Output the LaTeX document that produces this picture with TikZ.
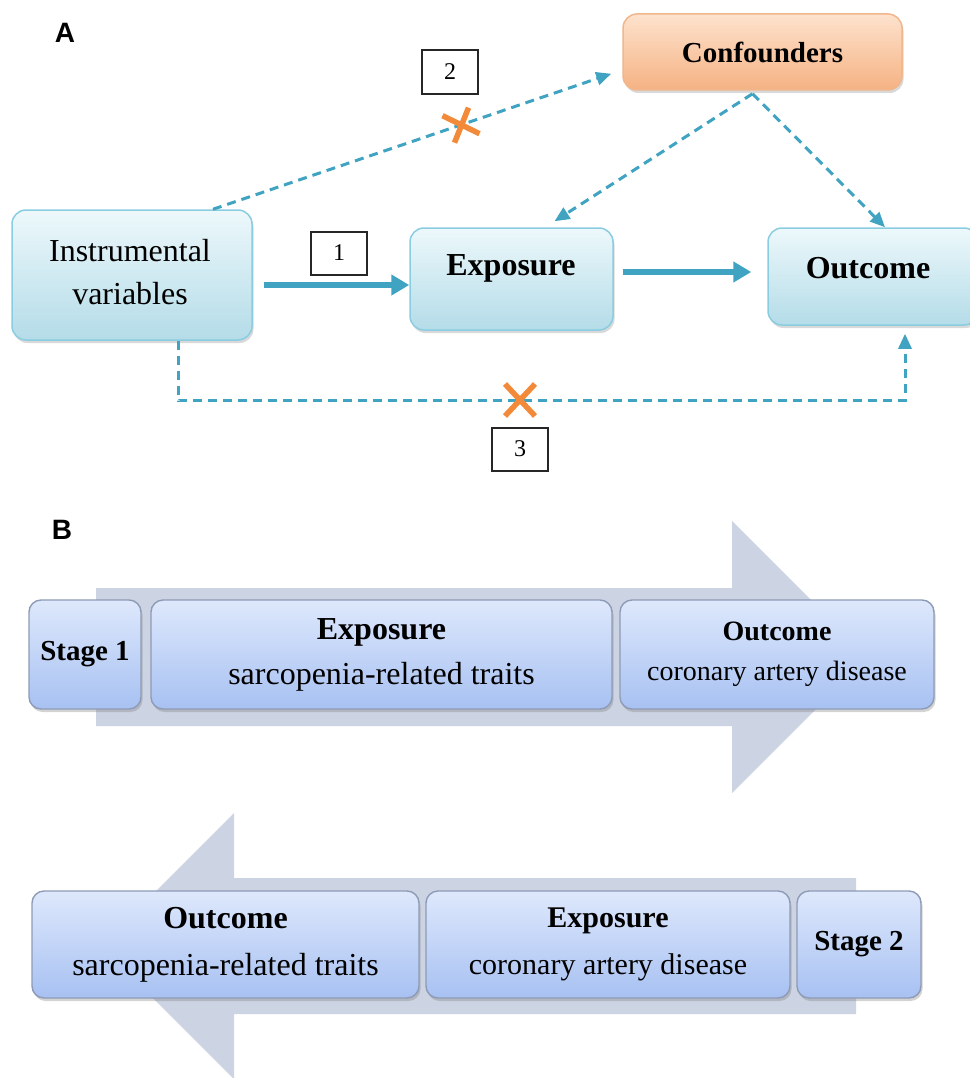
\documentclass[tikz,border=0pt]{standalone}
\usepackage{fontspec}
\setmainfont{Liberation Serif}
\newfontfamily\panelfont{Liberation Sans}
\usetikzlibrary{arrows.meta,shadows,calc}
\definecolor{arrowblue}{HTML}{3FA3C1}
\definecolor{crossorange}{HTML}{F28A3A}
\definecolor{aline}{HTML}{8ACDE0}
\definecolor{atop}{HTML}{EDF8FB}
\definecolor{abot}{HTML}{B4DCE8}
\definecolor{oline}{HTML}{F0B68C}
\definecolor{otop}{HTML}{FDE2CD}
\definecolor{obot}{HTML}{F5B283}
\definecolor{bline}{HTML}{8E9BB6}
\definecolor{btop}{HTML}{DEE8FC}
\definecolor{bbot}{HTML}{A7C1F2}
\definecolor{bigarrow}{HTML}{CCD3E3}

\begin{document}
\begin{tikzpicture}[x=1pt,y=-1pt,
  abox/.style={draw=aline, line width=1.5pt, rounded corners=14pt, top color=atop, bottom color=abot,
    drop shadow={shadow xshift=1.5pt, shadow yshift=-3pt, opacity=0.3}},
  obox/.style={abox, draw=oline, top color=otop, bottom color=obot},
  bbox/.style={draw=bline, line width=1.4pt, rounded corners=12pt, top color=btop, bottom color=bbot,
    drop shadow={shadow xshift=1.5pt, shadow yshift=-3pt, opacity=0.35}, align=center},
  numbox/.style={draw=black!85, line width=2pt, fill=white, minimum width=56pt, minimum height=43pt,
    font=\fontsize{24}{26}\selectfont},
  thickarrow/.style={draw=arrowblue, line width=6pt, -{Triangle[length=18pt,width=20pt]}},
  dasharrow/.style={draw=arrowblue, line width=3pt, dash pattern=on 9pt off 6pt, -{Triangle[length=15pt,width=13pt]}},
  crossmark/.style={draw=crossorange, line width=5.5pt},
  bigtxt/.style={font=\fontsize{32}{43}\selectfont, align=center},
]
\useasboundingbox (0,0) rectangle (969,1078);

%%% Panel A
% Text Node
\node[font=\panelfont\bfseries\fontsize{28}{30}\selectfont] (lblA) at (65,33) {A};

%Shape: Rounded Rect
\node[obox, minimum width=279pt, minimum height=76pt, font=\bfseries\fontsize{29}{34}\selectfont] (conf) at (762.5,52) {Confounders};
\node[abox, minimum width=240pt, minimum height=130pt] (iv) at (132,275) {};
\node[abox, minimum width=203pt, minimum height=102pt] (expo) at (511.5,279) {};
\node[abox, minimum width=210pt, minimum height=97pt] (outc) at (873,276.5) {};

% Text Node
\node[bigtxt] (ivtxt) at (130,272) {Instrumental\\variables};
\node[bigtxt, font=\bfseries\fontsize{32}{38}\selectfont] (expotxt) at (511,268) {Exposure};
\node[bigtxt, font=\bfseries\fontsize{32}{38}\selectfont] (outctxt) at (868,268) {Outcome};

% Solid arrows
\draw[thickarrow, shorten <=11pt] ([yshift=-10pt]iv.east) -- ([yshift=-10pt]iv.east -| expo.west);
\draw[thickarrow, shorten <=9pt, shorten >=16pt] ([yshift=7pt]expo.east) -- ([yshift=7pt]expo.east -| outc.west);

% Dashed arrows
\draw[dasharrow] ([xshift=81pt]iv.north) -- coordinate[pos=0.624] (x2) ($(conf.south west)+(-11,-17)$);
\coordinate (cfs) at ([xshift=-10pt,yshift=-3pt]conf.south);
\draw[dasharrow] (cfs) -- ([xshift=43pt,yshift=6pt]expo.north);
\draw[dasharrow] (cfs) -- ([xshift=12pt]outc.north);
\draw[dasharrow] ([xshift=46pt]iv.south) -- ++(0,60) coordinate (ivb) -| ([xshift=32pt,yshift=-8pt]outc.south);
\coordinate (x3) at (520,400);

% Crosses
\draw[crossmark] ($(x2)+(7,-17)$) -- ($(x2)+(-7,18)$);
\draw[crossmark] ($(x2)+(-19,-9)$) -- ($(x2)+(18,9)$);
\draw[crossmark] ($(x3)+(-15,-16)$) -- ($(x3)+(15,16)$);
\draw[crossmark] ($(x3)+(15,-16)$) -- ($(x3)+(-15,16)$);

% Number boxes
\node[numbox] (n1) at (339,253) {1};
\node[numbox, minimum height=44pt] (n2) at (450,72) {2};
\node[numbox] (n3) at (520,449) {3};

%%% Panel B
% Text Node
\node[font=\panelfont\bfseries\fontsize{28}{30}\selectfont] (lblB) at (62,530) {B};

%Shape: Block arrows
\fill[bigarrow] (96,588) -- (732,588) -- (732,521) -- (868,657) -- (732,793) -- (732,726) -- (96,726) -- cycle;
\fill[bigarrow] (856,878) -- (234,878) -- (234,813) -- (101,946) -- (234,1079) -- (234,1014) -- (856,1014) -- cycle;

% Stage 1 row
\node[bbox, minimum width=112pt, minimum height=109pt, font=\bfseries\fontsize{29}{34}\selectfont] (st1) at (85,654.5) {Stage 1};
\node[bbox, minimum width=461pt, minimum height=109pt, font=\fontsize{32}{45}\selectfont] (ex1) at (381.5,654.5) {\textbf{Exposure}\\sarcopenia-related traits};
\node[bbox, minimum width=314pt, minimum height=109pt, font=\fontsize{28}{40}\selectfont] (oc1) at (777,654.5) {\textbf{Outcome}\\coronary artery disease};

% Stage 2 row
\node[bbox, minimum width=387pt, minimum height=107pt, font=\fontsize{32}{47}\selectfont] (oc2) at (225.5,944.5) {\textbf{Outcome}\\sarcopenia-related traits};
\node[bbox, minimum width=364pt, minimum height=107pt, font=\fontsize{30}{47}\selectfont] (ex2) at (608,944.5) {\textbf{Exposure}\\coronary artery disease};
\node[bbox, minimum width=124pt, minimum height=107pt, font=\bfseries\fontsize{29}{34}\selectfont] (st2) at (859,944.5) {Stage 2};

\end{tikzpicture}
\end{document}
